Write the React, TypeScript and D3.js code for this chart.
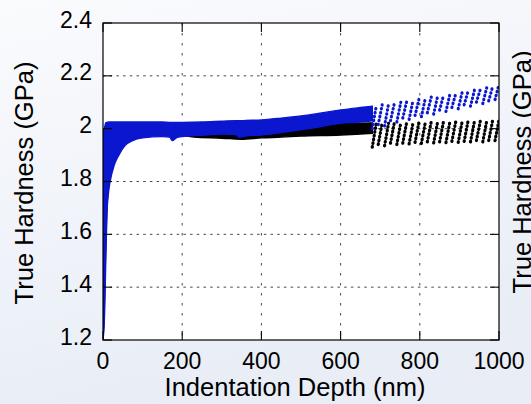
import React from "react";
import * as d3 from "d3";

// ---- data ----
const xTickValues = [0, 200, 400, 600, 800, 1000];
const xTickLabels = ["0", "200", "400", "600", "800", "1000"];
const yTickValues = [1.2, 1.4, 1.6, 1.8, 2.0, 2.2, 2.4];
const yTickLabels = ["1.2", "1.4", "1.6", "1.8", "2", "2.2", "2.4"];

// dense (continuous) part of the black series: envelope of the point cloud
const blackDepth = [0, 3, 6, 10, 18, 40, 70, 100, 200, 230, 300, 350, 400, 450, 500, 600, 650, 680];
const blackLower = [1.2, 1.3, 1.5, 1.7, 1.82, 1.92, 1.965, 1.975, 1.975, 1.968, 1.964, 1.96, 1.965, 1.968, 1.972, 1.976, 1.98, 1.982];
const blackUpper = [1.97, 2.0, 2.01, 2.015, 2.015, 2.015, 2.015, 2.012, 2.01, 2.01, 2.01, 2.012, 2.013, 2.015, 2.017, 2.02, 2.021, 2.022];

// dense part of the blue series
const blueDepth = [0, 4, 7, 10, 14, 18, 28, 40, 55, 75, 100, 150, 168, 175, 185, 200, 250, 300, 335, 345, 360, 400, 450, 520, 600, 650, 680];
const blueLower = [1.2, 1.3, 1.5, 1.68, 1.76, 1.8, 1.86, 1.9, 1.935, 1.955, 1.965, 1.97, 1.968, 1.955, 1.965, 1.97, 1.975, 1.98, 1.978, 1.967, 1.972, 1.976, 1.985, 2.0, 2.02, 2.025, 2.03];
const blueUpper = [1.95, 2.0, 2.022, 2.024, 2.025, 2.025, 2.025, 2.025, 2.025, 2.025, 2.025, 2.025, 2.024, 2.024, 2.024, 2.024, 2.025, 2.028, 2.03, 2.03, 2.031, 2.033, 2.04, 2.052, 2.071, 2.08, 2.085];

// sparse (cyclic) part beyond ~680 nm: one dotted stroke per cycle
const cycleDepth = [680, 695, 711, 726, 742, 757, 773, 788, 804, 819, 835, 850, 866, 881, 897, 912, 928, 943, 959, 974, 990];
const blueCycleLow = [2.0, 2.015, 2.01, 2.03, 2.025, 2.04, 2.035, 2.05, 2.045, 2.06, 2.055, 2.07, 2.065, 2.08, 2.075, 2.09, 2.085, 2.1, 2.095, 2.105, 2.11];
const blueCycleHigh = [2.085, 2.09, 2.093, 2.097, 2.1, 2.104, 2.108, 2.112, 2.115, 2.12, 2.123, 2.127, 2.13, 2.134, 2.138, 2.142, 2.146, 2.15, 2.155, 2.16, 2.168];
const blackCycleLow = [1.93, 1.94, 1.935, 1.945, 1.94, 1.945, 1.942, 1.948, 1.944, 1.95, 1.946, 1.95, 1.947, 1.952, 1.948, 1.952, 1.95, 1.955, 1.95, 1.955, 1.955];
const blackCycleHigh = [2.02, 2.022, 2.02, 2.025, 2.022, 2.025, 2.023, 2.026, 2.024, 2.027, 2.025, 2.028, 2.026, 2.028, 2.027, 2.03, 2.028, 2.03, 2.029, 2.032, 2.033];

const W = 531;
const H = 404;
const FONT = "'Liberation Sans', Arial, Helvetica, sans-serif";
const BLUE = "#0b16cf";
const BLACK = "#000000";

export default function App() {
  const x = d3.scaleLinear().domain([0, 1000]).range([103, 499]);
  const y = d3.scaleLinear().domain([1.2, 2.4]).range([340, 23]);
  const [x0, x1] = x.range();
  const [yb, yt] = y.range();

  const band = (depth: number[], lo: number[], hi: number[]) =>
    d3
      .area<number>()
      .curve(d3.curveMonotoneX)
      .x((_, i) => x(depth[i]))
      .y0((_, i) => y(lo[i]))
      .y1((_, i) => y(hi[i]))(depth.map((_, i) => i)) || "";

  const slant = 10; // horizontal drift of each unloading stroke (nm)
  const tick = 9;

  return (
    <div style={{ position: "fixed", left: 0, top: 0, width: W, height: H }}>
      <svg width={W} height={H} viewBox={`0 0 ${W} ${H}`} style={{ display: "block" }}>
        <defs>
          <linearGradient id="bg" x1="0" y1="0" x2="0.3" y2="1">
            <stop offset="0" stopColor="#fafbfd" />
            <stop offset="1" stopColor="#e8edf6" />
          </linearGradient>
          <clipPath id="plot">
            <rect x={x0} y={yt} width={x1 - x0} height={yb - yt} />
          </clipPath>
        </defs>
        <rect x={0} y={0} width={W} height={H} fill="url(#bg)" />
        <rect x={x0} y={yt} width={x1 - x0} height={yb - yt} fill="#ffffff" />

        {/* grid */}
        <g stroke="#333" strokeWidth={0.9}>
          {xTickValues.slice(1, -1).map((v) => (
            <line key={"gx" + v} x1={x(v)} x2={x(v)} y1={yt} y2={yb} strokeDasharray="2.5 7.5" />
          ))}
          {yTickValues.slice(1, -1).map((v) => (
            <line key={"gy" + v} x1={x0} x2={x1} y1={y(v)} y2={y(v)} strokeDasharray="2.5 4.2" />
          ))}
        </g>

        {/* data */}
        <g clipPath="url(#plot)">
          <path d={band(blackDepth, blackLower, blackUpper)} fill={BLACK} stroke={BLACK} strokeWidth={1.4} />
          {cycleDepth.map((d, i) => (
            <line
              key={"bk" + i}
              x1={x(d)}
              y1={y(blackCycleLow[i])}
              x2={x(d + slant)}
              y2={y(blackCycleHigh[i])}
              stroke={BLACK}
              strokeWidth={3.2}
              strokeLinecap="round"
              strokeDasharray="0.6 3.2"
            />
          ))}
          <path d={band(blueDepth, blueLower, blueUpper)} fill={BLUE} stroke={BLUE} strokeWidth={1.4} />
          {cycleDepth.map((d, i) => (
            <line
              key={"bl" + i}
              x1={x(d)}
              y1={y(blueCycleLow[i])}
              x2={x(d + slant)}
              y2={y(blueCycleHigh[i])}
              stroke={BLUE}
              strokeWidth={3.1}
              strokeLinecap="round"
              strokeDasharray="0.5 3.5"
            />
          ))}
        </g>

        {/* axes box + ticks */}
        <rect x={x0} y={yt} width={x1 - x0} height={yb - yt} fill="none" stroke="#000" strokeWidth={1.2} />
        <g stroke="#000" strokeWidth={1.1}>
          {xTickValues.map((v) => (
            <g key={"tx" + v}>
              <line x1={x(v)} x2={x(v)} y1={yb} y2={yb - tick} />
              <line x1={x(v)} x2={x(v)} y1={yt} y2={yt + tick} />
            </g>
          ))}
          {yTickValues.map((v) => (
            <g key={"ty" + v}>
              <line x1={x0} x2={x0 + tick} y1={y(v)} y2={y(v)} />
              <line x1={x1} x2={x1 - tick} y1={y(v)} y2={y(v)} />
            </g>
          ))}
        </g>

        {/* tick labels */}
        <g fontFamily={FONT} fontSize={23} fill="#000">
          {xTickValues.map((v, i) => (
            <text key={"lx" + v} x={x(v)} y={368.5} textAnchor="middle">
              {xTickLabels[i]}
            </text>
          ))}
          {yTickValues.map((v, i) => (
            <text key={"ly" + v} x={92} y={y(v) + 4.5} textAnchor="end">
              {yTickLabels[i]}
            </text>
          ))}
        </g>

        {/* axis titles */}
        <text x={295} y={396} textAnchor="middle" fontFamily={FONT} fontSize={25.5} fill="#000">
          Indentation Depth (nm)
        </text>
        <text
          transform={`translate(33,183) rotate(-90)`}
          textAnchor="middle"
          fontFamily={FONT}
          fontSize={25.5}
          fill="#000"
        >
          True Hardness (GPa)
        </text>
        <text
          transform={`translate(531,172) rotate(-90)`}
          textAnchor="middle"
          fontFamily={FONT}
          fontSize={25.5}
          fill="#000"
        >
          True Hardness (GPa)
        </text>
      </svg>
    </div>
  );
}
